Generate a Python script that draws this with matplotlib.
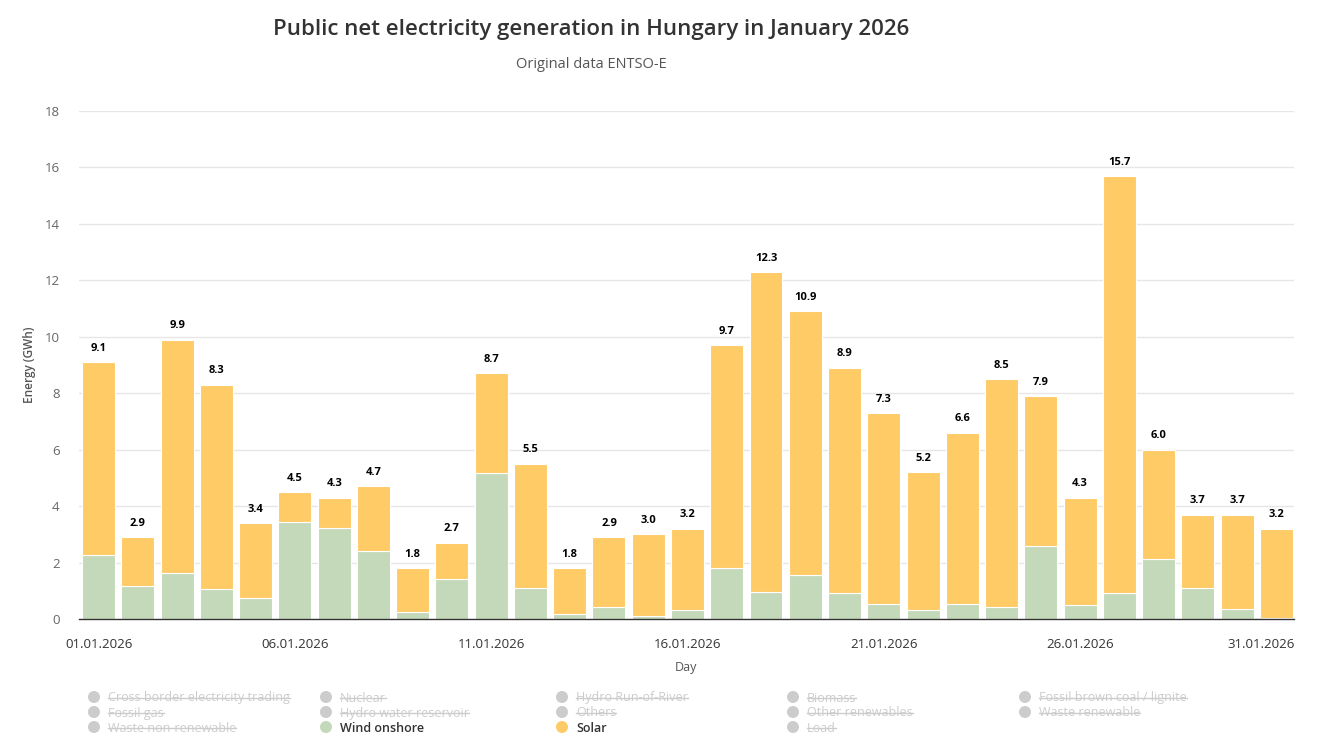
import matplotlib
matplotlib.use("Agg")
import matplotlib.pyplot as plt
from matplotlib.lines import Line2D
import numpy as np

plt.rcParams['font.family'] = ['Open Sans', 'DejaVu Sans']

days = list(range(1, 32))
wind = [2.28, 1.17, 1.64, 1.05, 0.74, 3.45, 3.23, 2.41, 0.25, 1.40,
        5.16, 1.09, 0.18, 0.43, 0.09, 0.32, 1.82, 0.95, 1.56, 0.91,
        0.53, 0.32, 0.53, 0.44, 2.60, 0.48, 0.91, 2.11, 1.09, 0.35, 0.02]
solar = [6.82, 1.73, 8.26, 7.25, 2.66, 1.05, 1.07, 2.29, 1.55, 1.30,
         3.54, 4.41, 1.62, 2.47, 2.91, 2.88, 7.88, 11.35, 9.34, 7.99,
         6.77, 4.88, 6.07, 8.06, 5.30, 3.82, 14.79, 3.89, 2.61, 3.35, 3.18]
tick_days = [1, 6, 11, 16, 21, 26, 31]
tick_labels = ["01.01.2026", "06.01.2026", "11.01.2026", "16.01.2026",
               "21.01.2026", "26.01.2026", "31.01.2026"]
legend_items = [
    ["Cross border electricity trading", "Nuclear", "Hydro Run-of-River", "Biomass", "Fossil brown coal / lignite"],
    ["Fossil gas", "Hydro water reservoir", "Others", "Other renewables", "Waste renewable"],
    ["Waste non-renewable", "Wind onshore", "Solar", "Load", None],
]
active = {"Wind onshore": "#c3d9b9", "Solar": "#ffcb66"}

W, H = 1317, 754
fig = plt.figure(figsize=(W / 100, H / 100), dpi=100)
ax = fig.add_axes([79 / W, 1 - 619 / H, (1294 - 79) / W, (619 - 111) / H])

x = np.array(days)
wind_a = np.array(wind)
solar_a = np.array(solar)
ax.bar(x, wind_a, width=0.84, color=active["Wind onshore"], edgecolor='white', linewidth=0.8, zorder=2)
ax.bar(x, solar_a, bottom=wind_a, width=0.84, color=active["Solar"], edgecolor='white', linewidth=0.8, zorder=2)
totals = wind_a + solar_a
for xi, t in zip(x, totals):
    ax.annotate(f"{t:.1f}", (xi, t), xytext=(0, 6), textcoords='offset points',
                ha='center', va='bottom', fontsize=8, fontweight='bold', color='black')

ax.set_xlim(0.5, 31.45)
ax.set_ylim(0, 18)
ax.set_yticks(np.arange(0, 19, 2))
ax.yaxis.grid(True, color='#e6e6e6', linewidth=1)
ax.set_axisbelow(True)
for s in ['top', 'right', 'left']:
    ax.spines[s].set_visible(False)
ax.spines['bottom'].set_color('#333333')
ax.spines['bottom'].set_linewidth(1)
ax.tick_params(axis='y', length=0, labelsize=9.5, labelcolor='#666666', pad=14)
ax.set_xticks(tick_days)
ax.set_xticklabels(tick_labels)
ax.tick_params(axis='x', length=0, labelsize=9.5, labelcolor='#333333', pad=14)
lbl = ax.get_xticklabels()[-1]
lbl.set_ha('right')
lbl.set_transform(lbl.get_transform() + matplotlib.transforms.ScaledTranslation(18 / 100, 0, fig.dpi_scale_trans))

fig.text(30 / W, 1 - 365 / H, "Energy (GWh)", rotation=90, ha='center', va='center',
         fontsize=8.5, color='#555555', fontweight='semibold')
fig.text(686 / W, 1 - 667 / H, "Day", ha='center', va='center', fontsize=9, color='#555555')

fig.text(591 / W, 1 - 30 / H, "Public net electricity generation in Hungary in January 2026",
         ha='center', va='center', fontsize=16, color='#333333', fontweight='semibold')
fig.text(591 / W, 1 - 64 / H, "Original data ENTSO-E", ha='center', va='center',
         fontsize=10.5, color='#555555')

col_x = [94, 326, 562, 793, 1025]
row_y = [697, 712, 727]
strikes = []
for r, row in enumerate(legend_items):
    for c, name in enumerate(row):
        if name is None:
            continue
        on = name in active
        mc = active[name] if on else '#cccccc'
        fig.patches.append(matplotlib.patches.Ellipse(
            (col_x[c] / W, 1 - row_y[r] / H), 12 / W, 12 / H,
            transform=fig.transFigure, facecolor=mc, edgecolor='none'))
        t = fig.text((col_x[c] + 14) / W, 1 - (row_y[r] + 4.5) / H, name, ha='left', va='baseline',
                     fontsize=9, color='#333333' if on else '#cccccc',
                     fontweight='semibold' if on else 'normal')
        if not on:
            strikes.append((t, row_y[r] + 1))

fig.canvas.draw()
rnd = fig.canvas.get_renderer()
for t, yline in strikes:
    bb = t.get_window_extent(rnd)
    fig.add_artist(Line2D([bb.x0 / W, bb.x1 / W], [1 - yline / H, 1 - yline / H],
                          transform=fig.transFigure, color='#cccccc', linewidth=1))

fig.savefig("out.png", dpi=100, facecolor='white')
